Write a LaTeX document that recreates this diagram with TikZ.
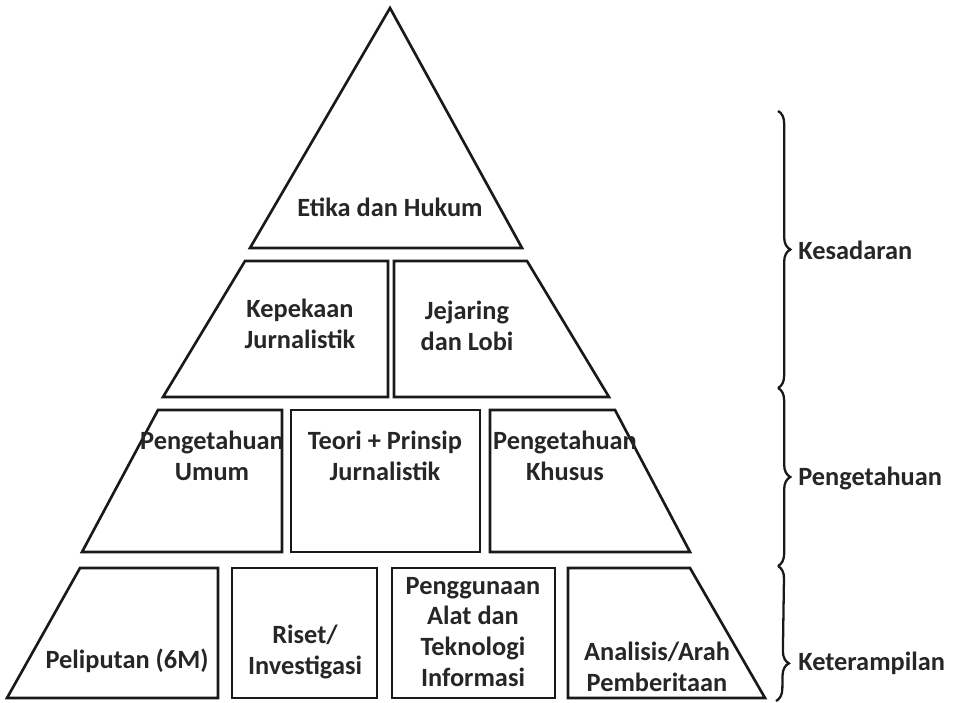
\documentclass[tikz,border=0pt]{standalone}
\usepackage{fontspec}
\setmainfont{Carlito}
\usetikzlibrary{decorations.pathreplacing, positioning}

\begin{document}
\begin{tikzpicture}[x=0.02cm,y=-0.02cm,line join=miter]
	\tikzset{block/.style={draw=black!90,line width=1.5pt},
		label/.style={font=\bfseries\fontsize{15}{17.6}\selectfont,align=center,text=black!85,inner sep=0pt},
		brace/.style={decorate,decoration={brace,amplitude=7pt},line width=1.3pt,draw=black!90}}
	\useasboundingbox (0,0) rectangle (955,702);
	% top
	\draw[block] (390,8) -- (522,248) -- (250,248) -- cycle;
	% row 2
	\draw[block] (245,261) -- (388,261) -- (388,397) -- (163,397) -- cycle;
	\draw[block] (394,261) -- (527,261) -- (609,397) -- (394,397) -- cycle;
	% row 3
	\draw[block] (158,410) -- (282,410) -- (282,552) -- (82,552) -- cycle;
	\draw[block] (291,410) -- (480,410) -- (480,552) -- (291,552) -- cycle;
	\draw[block] (490,410) -- (615,410) -- (690,552) -- (490,552) -- cycle;
	% row 4
	\draw[block] (80,568) -- (218,568) -- (218,698) -- (7,698) -- cycle;
	\draw[block] (232,568) -- (377,568) -- (377,698) -- (232,698) -- cycle;
	\draw[block] (392,568) -- (555,568) -- (555,698) -- (392,698) -- cycle;
	\draw[block] (568,568) -- (690,568) -- (765,698) -- (568,698) -- cycle;

	\node[label] (etika) at (390,207) {Etika dan Hukum};
	\node[label] (kepekaan) at (300,324) {Kepekaan\\Jurnalistik};
	\node[label] (jejaring) at (467,326) {Jejaring\\dan Lobi};
	\node[label] (umum) at (212,456) {Pengetahuan\\Umum};
	\node[label] (teori) at (385,456) {Teori + Prinsip\\Jurnalistik};
	\node[label] (khusus) at (565,456) {Pengetahuan\\Khusus};
	\node[label] (liputan) at (127,661) {Peliputan (6M)};
	\node[label] (riset) at (305,652) {Riset/\\Investigasi};
	\node[label] (alat) at (473,632) {Penggunaan\\Alat dan\\Teknologi\\Informasi};
	\node[label] (arah) at (657,667) {Analisis/Arah\\Pemberitaan};

	% braces
	\coordinate (b0) at (778,111);
	\coordinate (b1) at (778,388);
	\coordinate (b2) at (778,566);
	\coordinate (b3) at (776,701);
	\draw[brace] (b0) -- (b1);
	\draw[brace] (b1) -- (b2);
	\draw[brace,decoration={aspect=0.72}] (b2) -- (b3);
	\node[label, anchor=west] (kesadaran) at (798,250) {Kesadaran};
	\node[label, anchor=west] (tahu) at (798,478) {Pengetahuan};
	\node[label, anchor=west] (terampil) at (798,663) {Keterampilan};
\end{tikzpicture}
\end{document}
